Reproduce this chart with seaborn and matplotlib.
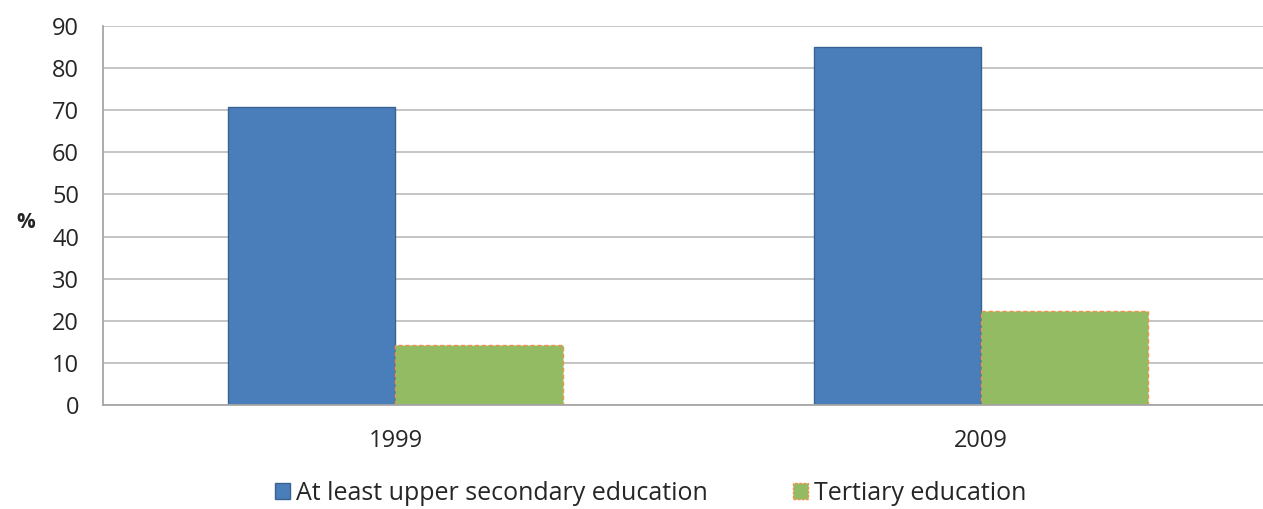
import pandas as pd
import matplotlib.pyplot as plt
import seaborn as sns

# Chart data
years = ['1999', '2009']
upper_secondary = [70.7, 85.1]
tertiary = [14.3, 22.4]
series_names = ['At least upper secondary education', 'Tertiary education']

df = pd.DataFrame({
    'year': years * 2,
    'value': upper_secondary + tertiary,
    'level': [series_names[0]] * 2 + [series_names[1]] * 2,
})

sns.set_style('white')
plt.rcParams['font.family'] = ['Open Sans', 'DejaVu Sans']

fig = plt.figure(figsize=(12.63, 5.09), dpi=100)
# plot area runs past the right edge in the original (cropped screenshot)
ax = fig.add_axes([102.7 / 1263, 104 / 509, 1171 / 1263, 379 / 509])

palette = {series_names[0]: '#4a7ebb', series_names[1]: '#93bb63'}
sns.barplot(data=df, x='year', y='value', hue='level', palette=palette,
            width=0.571, ax=ax, legend=False, saturation=1)

# Bar edges: dark blue solid for first series, orange dashed for second
for patch in ax.patches[:2]:
    patch.set_edgecolor('#3a6190')
    patch.set_linewidth(1.0)
for patch in ax.patches[2:4]:
    patch.set_edgecolor('#f0914a')
    patch.set_linewidth(1.0)
    patch.set_linestyle((0, (3, 2)))

ax.set_xlim(-0.5, 1.5)
ax.set_ylim(0, 90)
ax.set_yticks(range(0, 91, 10))
ax.yaxis.grid(True, color='#c0c0c0', linewidth=1.3)
ax.set_axisbelow(True)

for side in ['top', 'right']:
    ax.spines[side].set_visible(False)
for side in ['left', 'bottom']:
    ax.spines[side].set_color('#a6a6a6')
    ax.spines[side].set_linewidth(1.3)

ax.tick_params(axis='y', length=7, color='#a6a6a6', labelsize=17, labelcolor='#262626', pad=10)
# Category boundary ticks on the x axis
ax.set_xticks([-0.5, 0.5, 1.5], minor=True)
ax.tick_params(axis='x', which='minor', length=7, color='#a6a6a6', width=1.3, direction='out')
ax.tick_params(axis='x', which='major', length=0, labelsize=17, labelcolor='#262626', pad=17)

ax.set_xlabel('')
ax.set_ylabel('%', rotation=0, fontsize=15, fontweight='bold', color='#262626')
ax.yaxis.set_label_coords(-0.066, 0.455)

handles = [
    plt.Rectangle((0, 0), 1, 1, facecolor='#4a7ebb', edgecolor='#3a6190'),
    plt.Rectangle((0, 0), 1, 1, facecolor='#93bb63', edgecolor='#f0914a', linestyle=(0, (2, 1))),
]
fig.legend(handles, series_names, loc='lower center', bbox_to_anchor=(0.515, -0.038), ncol=2,
           frameon=False, fontsize=18, handlelength=0.6, handleheight=0.6, handletextpad=0.25,
           columnspacing=3.4, labelcolor='#262626')

fig.savefig('out.png', dpi=100)
